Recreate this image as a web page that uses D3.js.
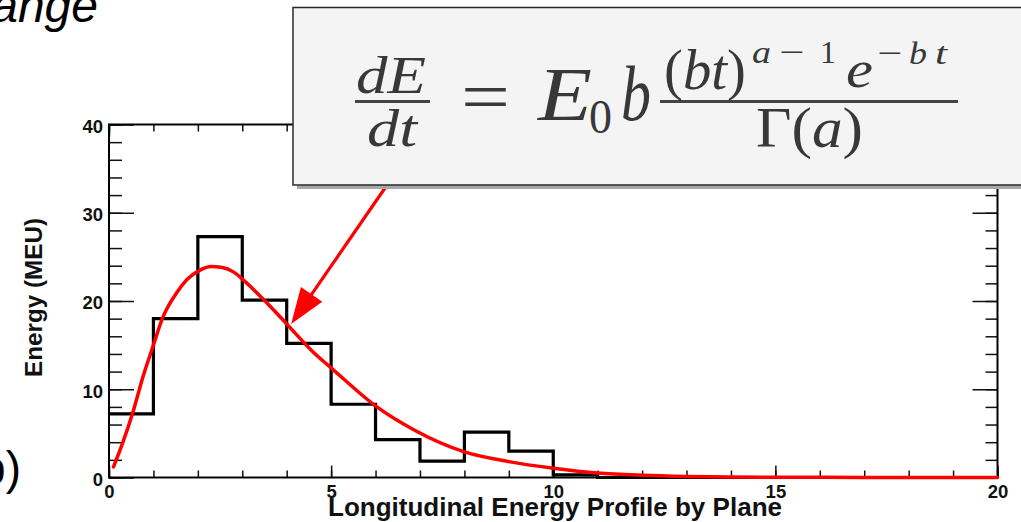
<!DOCTYPE html>
<html>
<head>
<meta charset="utf-8">
<script src="https://cdn.jsdelivr.net/npm/d3@7"></script>
<style>
  body { margin: 0; background: #fff; }
  svg { display: block; }
  .math { font-family: "Liberation Serif", "DejaVu Serif", serif; fill: #383838; }
</style>
</head>
<body>
<svg id="chart" width="1021" height="522"></svg>
<script>
// histogram: energy per plane, bins of width 1 from 0 to 20
var binEdges = d3.range(0, 21);
var binValues = [7.2, 18.0, 27.3, 20.1, 15.2, 8.3, 4.3, 1.85, 5.15, 3.0, 0.3, 0, 0, 0, 0, 0, 0, 0, 0, 0];

// gamma fit
var fitT = [0.1, 0.3, 0.55, 0.77, 1.0, 1.2, 1.52, 1.75, 2.05, 2.3, 2.55, 2.8, 3.02, 3.55, 4.0, 4.6, 5.05, 6.03, 6.9, 8.0, 9.0, 10.0, 11.0, 12.0, 13.0, 14.0, 16.0, 18.0, 20.0];
var fitE = [1.2, 3.8, 7.6, 11.5, 15.0, 18.0, 20.9, 22.4, 23.5, 23.9, 23.8, 23.3, 22.4, 19.8, 17.4, 14.2, 12.2, 8.0, 5.3, 2.9, 1.8, 1.05, 0.5, 0.25, 0.12, 0.06, 0.02, 0.01, 0.0];

var xMajor = [0, 5, 10, 15, 20];
var xMinor = d3.range(0, 21, 1);
var yMajor = [0, 10, 20, 30, 40];
var yMinor = d3.range(0, 41, 2);

var arrowTip = { t: 4.1, e: 17.4 };

(function() {
  var svg = d3.select('#chart');

  var pLeft = 109, pRight = 997.5, pTop = 124.5, pBottom = 477.5;

  var x = d3.scaleLinear().domain([0, 20]).range([pLeft, pRight]);
  var y = d3.scaleLinear().domain([0, 40]).range([pBottom, pTop]);

  var sans = '"Liberation Sans", Arial, sans-serif';

  // ticks on all four sides, pointing inward (ROOT style)
  var gTicks = svg.append('g');

  var addAxis = function(axis, tx, ty) {
    var g = gTicks.append('g')
      .attr('transform', 'translate(' + tx + ',' + ty + ')')
      .call(axis);
    g.select('.domain').remove();
    g.selectAll('.tick line').attr('stroke', '#111').attr('stroke-width', 1.5);
    g.selectAll('.tick text')
      .style('font-family', sans).style('font-weight', 'bold')
      .style('font-size', '18.5px').style('fill', '#111');
    return g;
  };

  addAxis(d3.axisLeft(y).tickValues(yMinor).tickSize(-13).tickFormat(''), pLeft, 0);
  addAxis(d3.axisRight(y).tickValues(yMinor).tickSize(-12).tickFormat(''), pRight, 0);
  addAxis(d3.axisRight(y).tickValues(yMajor).tickSize(-25).tickFormat(''), pRight, 0);
  var gy = addAxis(d3.axisLeft(y).tickValues(yMajor).tickSize(-25).tickPadding(6), pLeft, 0);
  gy.selectAll('.tick text').attr('dy', '0.42em');

  addAxis(d3.axisBottom(x).tickValues(xMinor).tickSize(-7).tickFormat(''), 0, pBottom);
  addAxis(d3.axisTop(x).tickValues(xMinor).tickSize(-7).tickFormat(''), 0, pTop);
  addAxis(d3.axisTop(x).tickValues(xMajor).tickSize(-12).tickFormat(''), 0, pTop);
  var gx = addAxis(d3.axisBottom(x).tickValues(xMajor).tickSize(-12).tickPadding(0), 0, pBottom);
  gx.selectAll('.tick text').attr('y', 20).attr('dy', 0);

  // frame
  svg.append('rect')
    .attr('x', pLeft).attr('y', pTop)
    .attr('width', pRight - pLeft).attr('height', pBottom - pTop)
    .attr('fill', 'none').attr('stroke', '#000').attr('stroke-width', 2);

  // histogram outline
  var histPts = binValues.map(function(v, i) { return [binEdges[i], v]; });
  histPts.push([20, binValues[19]]);
  var histLine = d3.line()
    .x(function(d) { return x(d[0]); })
    .y(function(d) { return y(d[1]); })
    .curve(d3.curveStepAfter);
  svg.append('path')
    .attr('d', histLine(histPts))
    .attr('fill', 'none').attr('stroke', '#000').attr('stroke-width', 3.2);

  // fit curve
  var fitLine = d3.line()
    .x(function(d, i) { return x(fitT[i]); })
    .y(function(d) { return y(d); })
    .curve(d3.curveMonotoneX);
  svg.append('path')
    .attr('d', fitLine(fitE))
    .attr('fill', 'none').attr('stroke', '#ff0000').attr('stroke-width', 3.5)
    .attr('stroke-linecap', 'round');

  // axis titles
  svg.append('text')
    .attr('transform', 'translate(42,297.5) rotate(-90)')
    .attr('text-anchor', 'middle')
    .attr('textLength', 159).attr('lengthAdjust', 'spacingAndGlyphs')
    .style('font-family', sans)
    .style('font-weight', 'bold').style('font-size', '23px').style('fill', '#111')
    .text('Energy (MEU)');

  svg.append('text')
    .attr('x', 328).attr('y', 516)
    .attr('textLength', 454).attr('lengthAdjust', 'spacingAndGlyphs')
    .style('font-family', sans)
    .style('font-weight', 'bold').style('font-size', '25px').style('fill', '#111')
    .text('Longitudinal Energy Profile by Plane');

  // slide fragments cut off at the left edge
  svg.append('text')
    .attr('x', 98).attr('y', 22).attr('text-anchor', 'end')
    .style('font-family', sans)
    .style('font-style', 'italic').style('font-size', '48px')
    .text('range');
  svg.append('text')
    .attr('x', 21).attr('y', 484).attr('text-anchor', 'end')
    .style('font-family', sans)
    .style('font-size', '46px')
    .text('b)');

  // arrow from the formula box to the curve
  var tipX = x(arrowTip.t), tipY = y(arrowTip.e);
  var tailX = 385, tailY = 188;
  var dx = tipX - tailX, dy = tipY - tailY, len = Math.sqrt(dx * dx + dy * dy);
  var ux = dx / len, uy = dy / len;
  var headLen = 36, headHalf = 13;
  var bx = tipX - ux * headLen, by = tipY - uy * headLen;
  svg.append('line')
    .attr('x1', tailX).attr('y1', tailY)
    .attr('x2', bx + ux * 4).attr('y2', by + uy * 4)
    .attr('stroke', '#ff0000').attr('stroke-width', 3.2);
  svg.append('polygon')
    .attr('points', [
      [tipX, tipY],
      [bx + uy * headHalf, by - ux * headHalf],
      [bx - uy * headHalf, by + ux * headHalf]
    ].map(function(p) { return p.join(','); }).join(' '))
    .attr('fill', '#ff0000');

  // formula box
  svg.append('rect')
    .attr('x', 297).attr('y', 11.5).attr('width', 760).attr('height', 177.5)
    .attr('fill', '#a8a8a8');
  svg.append('rect')
    .attr('x', 293).attr('y', 7.5).attr('width', 760).attr('height', 177.5)
    .attr('fill', '#f4f4f4').attr('stroke', '#2a2a2a').attr('stroke-width', 1.5);

  var math = svg.append('g').attr('class', 'math');
  // parts: list of [string, italic]
  var put = function(parts, px, py, size, width) {
    var t = math.append('text')
      .attr('x', px).attr('y', py)
      .style('font-size', size + 'px');
    parts.forEach(function(p) {
      t.append('tspan')
        .style('font-style', p[1] ? 'italic' : 'normal')
        .text(p[0]);
    });
    if (width) t.attr('textLength', width).attr('lengthAdjust', 'spacingAndGlyphs');
    return t;
  };
  var bar = function(x1, x2, yy) {
    math.append('line')
      .attr('x1', x1).attr('x2', x2).attr('y1', yy).attr('y2', yy)
      .attr('stroke', '#444').attr('stroke-width', 3);
  };

  put([['dE', true]], 356, 93, 52, 70);
  bar(355, 430, 101.5);
  put([['dt', true]], 367, 146, 52, 50);
  put([['=', false]], 461, 121, 72, 49);
  put([['E', true]], 538, 120, 76, 54);
  put([['0', false]], 589, 133, 48, 23);
  put([['b', true]], 621, 120, 78, 30);
  bar(660, 958, 101.5);
  put([['(', false], ['bt', true], [')', false]], 664, 89, 58, 82);
  // superscripts, glyph by glyph
  put([['a', true]], 752, 63, 32, 19);
  put([['\u2212', false]], 779, 63, 32, 25);
  put([['1', false]], 820, 63, 32, 16);
  put([['e', true]], 846, 87, 52, 27);
  put([['\u2212', false]], 877, 64, 32, 25);
  put([['b', true]], 909, 64, 32, 18);
  put([['t', true]], 935, 64, 32, 12);
  put([['\u0393(', false], ['a', true], [')', false]], 756, 147, 58, 107);
})();
</script>
</body>
</html>
